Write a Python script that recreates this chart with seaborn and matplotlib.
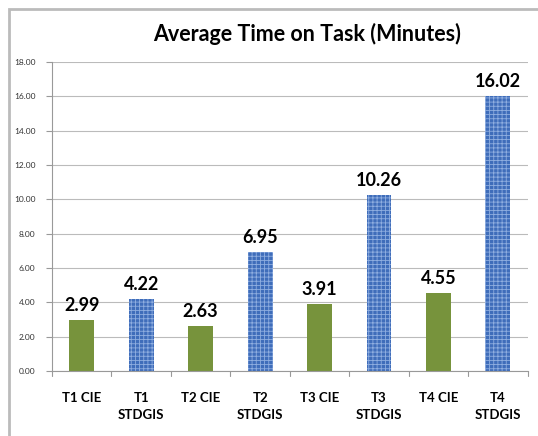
import matplotlib
matplotlib.use("Agg")
import matplotlib.pyplot as plt
import seaborn as sns
import pandas as pd
from matplotlib.patches import Rectangle

categories = ["T1 CIE", "T1\nSTDGIS", "T2 CIE", "T2\nSTDGIS", "T3 CIE", "T3\nSTDGIS", "T4 CIE", "T4\nSTDGIS"]
groups = ["CIE", "STDGIS", "CIE", "STDGIS", "CIE", "STDGIS", "CIE", "STDGIS"]
values = [2.99, 4.22, 2.63, 6.95, 3.91, 10.26, 4.55, 16.02]
yticks = [0, 2, 4, 6, 8, 10, 12, 14, 16, 18]

df = pd.DataFrame({"cat": categories, "group": groups, "val": values})

sns.set_theme(style="white")
plt.rcParams["font.family"] = ["Lato", "DejaVu Sans"]
plt.rcParams["hatch.linewidth"] = 0.6

fig = plt.figure(figsize=(5.38, 4.36), dpi=100)
ax = fig.add_axes([0.0967, 0.149, 0.884, 0.709])

palette = {"CIE": "#77933C", "STDGIS": "#3F6DBA"}
sns.barplot(data=df, x="cat", y="val", hue="group", palette=palette, dodge=False,
            width=0.42, legend=False, ax=ax, saturation=1)

for p in ax.patches:
    idx = int(round(p.get_x() + p.get_width() / 2))
    if groups[idx] == "STDGIS":
        p.set_hatch("++++")
        p.set_edgecolor("#8FAEE0")
        p.set_linewidth(0)
    else:
        p.set_edgecolor("none")

for i, v in enumerate(values):
    ax.text(i, v + 0.35, f"{v:.2f}", ha="center", va="bottom", fontsize=13,
            fontweight="bold", color="black")

ax.set_ylim(0, 18)
ax.set_xlim(-0.5, 7.5)
ax.set_yticks(yticks)
ax.set_yticklabels([f"{t:.2f}" for t in yticks], fontsize=6, color="#333333")
ax.set_xticks(range(len(categories)))
ax.set_xticklabels(categories, fontsize=9.5, fontweight="bold", color="black", linespacing=1.5)
ax.tick_params(axis="x", length=0, pad=15)
ax.tick_params(axis="y", length=4, color="#999999", pad=8, left=True, width=0.8)
for b in range(0, 9):
    ax.plot([b - 0.5, b - 0.5], [0, -0.3], color="#999999", lw=0.8, clip_on=False)
ax.set_xlabel("")
ax.set_ylabel("")
ax.yaxis.grid(True, color="#BBBBBB", lw=0.8)
ax.set_axisbelow(True)
for s in ["top", "right"]:
    ax.spines[s].set_visible(False)
ax.spines["left"].set_color("#999999")
ax.spines["bottom"].set_color("#999999")
ax.spines["left"].set_linewidth(0.8)
ax.spines["bottom"].set_linewidth(0.8)

fig.text(0.57, 0.923, "Average Time on Task (Minutes)", ha="center", va="center",
         fontsize=15.5, fontweight="bold", color="black")

fig.patches.append(Rectangle((0.017, -0.1), 1.2, 1.08, transform=fig.transFigure,
                             fill=False, edgecolor="#BBBBBB", lw=2))

fig.savefig("out.png", dpi=100)
